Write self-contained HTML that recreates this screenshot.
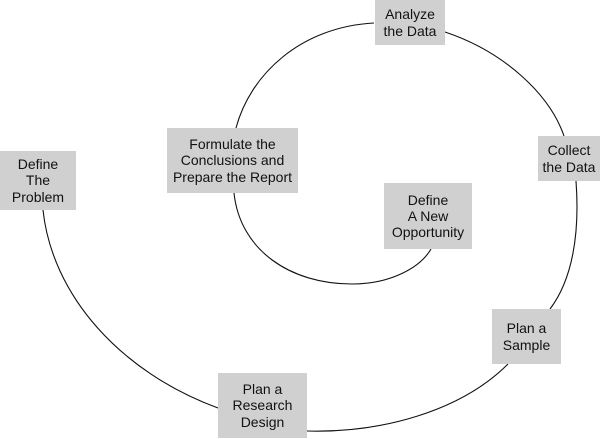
<!DOCTYPE html>
<html><head><meta charset="utf-8"><style>
html,body{margin:0;padding:0;background:#fff;width:600px;height:439px;overflow:hidden}
.b{position:absolute;background:#d0d0d0;font-family:"Liberation Sans",sans-serif;font-size:14px;line-height:16.3px;color:#111;text-align:center;display:flex;align-items:center;justify-content:center}
svg{position:absolute;left:0;top:0}
</style></head><body>
<svg width="600" height="439" viewBox="0 0 600 439" fill="none" stroke="#111" stroke-width="1.1">
<path d="M374,23 C300,27 250,75 236,128"/>
<path d="M234,193 C240,250 290,284 352,284 C390,284 420,268 431,249"/>
<path d="M445,32 C505,52 550,95 564,136"/>
<path d="M576,181 C580,235 572,280 550,309"/>
<path d="M508,364 C460,412 380,433 307,431"/>
<path d="M218,408 C120,372 52,295 43,210"/>
</svg>
<div class="b" style="left:375px;top:0;width:70px;height:45px">Analyze<br>the Data</div>
<div class="b" style="left:538px;top:136px;width:62px;height:45px">Collect<br>the Data</div>
<div class="b" style="left:167px;top:128px;width:131px;height:65px">Formulate the<br>Conclusions and<br>Prepare the Report</div>
<div class="b" style="left:0;top:151px;width:76px;height:59px">Define<br>The<br>Problem</div>
<div class="b" style="left:384px;top:183px;width:88px;height:66px">Define<br>A New<br>Opportunity</div>
<div class="b" style="left:492px;top:309px;width:69px;height:55px">Plan a<br>Sample</div>
<div class="b" style="left:218px;top:373px;width:89px;height:65px">Plan a<br>Research<br>Design</div>
</body></html>
